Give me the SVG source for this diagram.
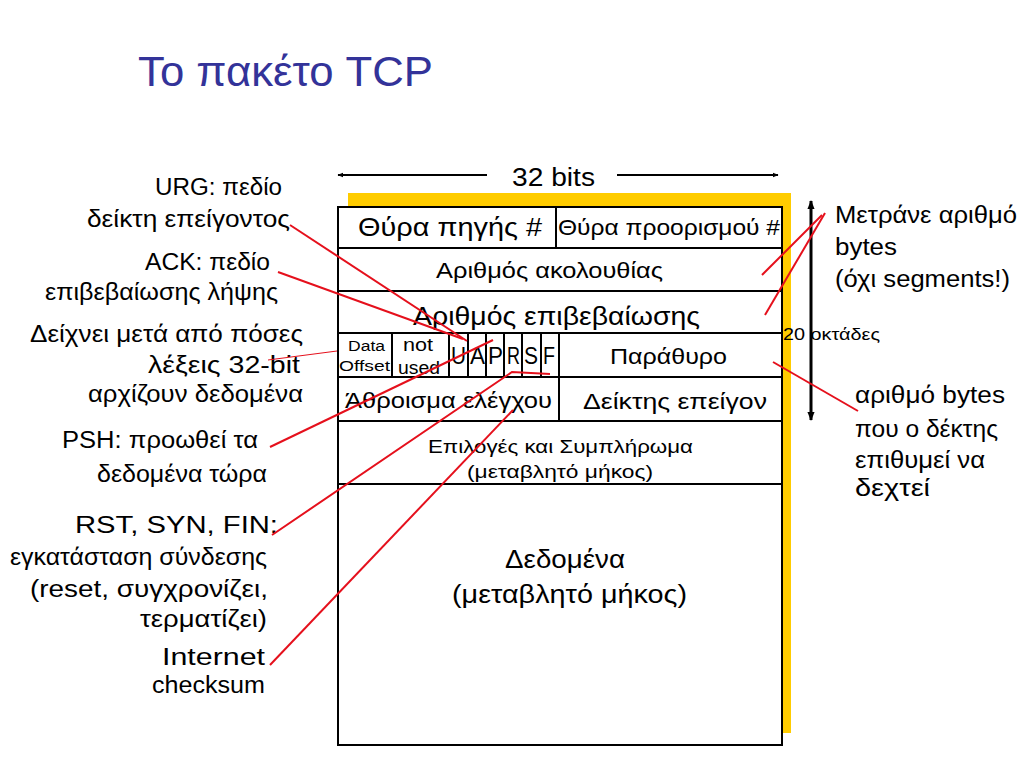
<svg xmlns="http://www.w3.org/2000/svg" width="1024" height="768" viewBox="0 0 1024 768">
<defs>
<marker id="ah" viewBox="0 0 10 10" refX="9" refY="5" markerWidth="6" markerHeight="6" orient="auto-start-reverse" markerUnits="userSpaceOnUse">
<path d="M0,1 L10,5 L0,9 z" fill="#000"/>
</marker>
<marker id="ah2" viewBox="0 0 10 10" refX="9" refY="5" markerWidth="9" markerHeight="9" orient="auto-start-reverse" markerUnits="userSpaceOnUse">
<path d="M0,1 L10,5 L0,9 z" fill="#000"/>
</marker>
<style>
text{font-family:"Liberation Sans","DejaVu Sans",sans-serif;fill:#000}
.lab{font-size:23px}
.cell{font-size:22px}
.big{font-size:26px}
.sm{font-size:14px}
.mid{font-size:18px}
.flag{font-size:24px}
.title{font-size:43px;fill:#333399}
.box{fill:#fff;stroke:#000;stroke-width:2}
.ln{stroke:#000;stroke-width:2;fill:none}
.red{stroke:#e5101c;stroke-width:2;fill:none}
.redt{stroke:#e5101c;stroke-width:1;fill:none}
.arr{stroke:#000;stroke-width:2;fill:none}
</style>
</defs>
<rect width="1024" height="768" fill="#fff"/>
<text class="title" x="138" y="86" textLength="295" lengthAdjust="spacingAndGlyphs">Το πακέτο TCP</text>

<rect x="348" y="193" width="443" height="540" fill="#ffcc00"/>

<g id="packet">
<rect class="box" x="338" y="207" width="444" height="538"/>
<g id="row-lines">
<line class="ln" x1="338" y1="248" x2="782" y2="248"/>
<line class="ln" x1="338" y1="291" x2="782" y2="291"/>
<line class="ln" x1="338" y1="333" x2="782" y2="333"/>
<line class="ln" x1="338" y1="377" x2="782" y2="377"/>
<line class="ln" x1="338" y1="421" x2="782" y2="421"/>
<line class="ln" x1="338" y1="484" x2="782" y2="484"/>
</g>
</g>
<g id="src-port"><text class="big" x="358" y="236" textLength="184" lengthAdjust="spacingAndGlyphs">Θύρα πηγής #</text></g>
<g id="dst-port"><line class="ln" x1="556" y1="207" x2="556" y2="248"/><text class="cell" x="558" y="235" textLength="222" lengthAdjust="spacingAndGlyphs">Θύρα προορισμού #</text></g>
<g id="seq"><text class="cell" x="436" y="278" textLength="227" lengthAdjust="spacingAndGlyphs">Αριθμός ακολουθίας</text></g>
<g id="ack"><text class="big" x="413" y="325" textLength="287" lengthAdjust="spacingAndGlyphs">Αριθμός επιβεβαίωσης</text></g>
<g id="data-offset"><line class="ln" x1="392" y1="333" x2="392" y2="377"/><text class="sm" x="348" y="351" textLength="37" lengthAdjust="spacingAndGlyphs">Data</text><text class="sm" x="339" y="371" textLength="51" lengthAdjust="spacingAndGlyphs">Offset</text></g>
<g id="not-used"><line class="ln" x1="449" y1="333" x2="449" y2="377"/><text class="mid" x="403" y="351" textLength="30" lengthAdjust="spacingAndGlyphs">not</text><text class="mid" x="398" y="374" textLength="42" lengthAdjust="spacingAndGlyphs">used</text></g>
<g id="flag-u"><line class="ln" x1="468" y1="333" x2="468" y2="377"/><text class="flag" x="451" y="364" textLength="15" lengthAdjust="spacingAndGlyphs">U</text></g>
<g id="flag-a"><line class="ln" x1="486" y1="333" x2="486" y2="377"/><text class="flag" x="470" y="364" textLength="15" lengthAdjust="spacingAndGlyphs">A</text></g>
<g id="flag-p"><line class="ln" x1="504" y1="333" x2="504" y2="377"/><text class="flag" x="488" y="364" textLength="15" lengthAdjust="spacingAndGlyphs">P</text></g>
<g id="flag-r"><line class="ln" x1="522" y1="333" x2="522" y2="377"/><text class="flag" x="507" y="364" textLength="13" lengthAdjust="spacingAndGlyphs">R</text></g>
<g id="flag-s"><line class="ln" x1="541" y1="333" x2="541" y2="377"/><text class="flag" x="524" y="364" textLength="14" lengthAdjust="spacingAndGlyphs">S</text></g>
<g id="flag-f"><line class="ln" x1="559" y1="333" x2="559" y2="377"/><text class="flag" x="543" y="364" textLength="12" lengthAdjust="spacingAndGlyphs">F</text></g>
<g id="window"><text class="cell" x="610" y="364" textLength="117" lengthAdjust="spacingAndGlyphs">Παράθυρο</text></g>
<g id="checksum"><line class="ln" x1="559" y1="377" x2="559" y2="421"/><text class="cell" x="345" y="408" textLength="207" lengthAdjust="spacingAndGlyphs">Άθροισμα ελέγχου</text></g>
<g id="urgent"><text class="cell" x="583" y="409" textLength="184" lengthAdjust="spacingAndGlyphs">Δείκτης επείγον</text></g>
<g id="options"><text class="mid" x="428" y="453" textLength="265" lengthAdjust="spacingAndGlyphs">Επιλογές και Συμπλήρωμα</text><text class="mid" x="467" y="478" textLength="186" lengthAdjust="spacingAndGlyphs">(μεταβλητό μήκος)</text></g>
<g id="data"><text class="big" x="505" y="568" textLength="120" lengthAdjust="spacingAndGlyphs">Δεδομένα</text><text class="big" x="452" y="603" textLength="235" lengthAdjust="spacingAndGlyphs">(μεταβλητό μήκος)</text></g>

<g id="width-label"><text class="big" x="512" y="186" textLength="83" lengthAdjust="spacingAndGlyphs">32 bits</text></g>
<g id="height-label"><text x="783" y="340" style="font-size:17px" textLength="97" lengthAdjust="spacingAndGlyphs">20 οκτάδες</text></g>

<g id="label-urg"><text class="lab" x="155" y="195" textLength="127" lengthAdjust="spacingAndGlyphs">URG: πεδίο</text><text class="lab" x="87" y="227" textLength="203" lengthAdjust="spacingAndGlyphs">δείκτη επείγοντος</text></g>
<g id="label-ack"><text class="lab" x="145" y="270" textLength="125" lengthAdjust="spacingAndGlyphs">ACK: πεδίο</text><text class="lab" x="45" y="300" textLength="233" lengthAdjust="spacingAndGlyphs">επιβεβαίωσης λήψης</text></g>
<g id="label-offset"><text class="lab" x="30" y="342" textLength="273" lengthAdjust="spacingAndGlyphs">Δείχνει μετά από πόσες</text><text class="lab" x="148" y="373" textLength="152" lengthAdjust="spacingAndGlyphs">λέξεις 32-bit</text><text class="lab" x="88" y="402" textLength="215" lengthAdjust="spacingAndGlyphs">αρχίζουν δεδομένα</text></g>
<g id="label-psh"><text class="lab" x="62" y="448" textLength="196" lengthAdjust="spacingAndGlyphs">PSH: προωθεί τα</text><text class="lab" x="97" y="482" textLength="170" lengthAdjust="spacingAndGlyphs">δεδομένα τώρα</text></g>
<g id="label-rsf"><text class="lab" x="75" y="533" textLength="203" lengthAdjust="spacingAndGlyphs">RST, SYN, FIN:</text><text class="lab" x="10" y="565" textLength="257" lengthAdjust="spacingAndGlyphs">εγκατάσταση σύνδεσης</text><text class="lab" x="30" y="597" textLength="238" lengthAdjust="spacingAndGlyphs">(reset, συγχρονίζει,</text><text class="lab" x="140" y="627" textLength="127" lengthAdjust="spacingAndGlyphs">τερματίζει)</text></g>
<g id="label-cksum"><text class="lab" x="162" y="665" textLength="103" lengthAdjust="spacingAndGlyphs">Internet</text><text class="lab" x="152" y="693" textLength="113" lengthAdjust="spacingAndGlyphs">checksum</text></g>
<g id="label-count"><text class="lab" x="835" y="223" textLength="182" lengthAdjust="spacingAndGlyphs">Μετράνε αριθμό</text><text class="lab" x="835" y="255" textLength="62" lengthAdjust="spacingAndGlyphs">bytes</text><text class="lab" x="835" y="287" textLength="175" lengthAdjust="spacingAndGlyphs">(όχι segments!)</text></g>
<g id="label-window"><text class="lab" x="855" y="403" textLength="150" lengthAdjust="spacingAndGlyphs">αριθμό bytes</text><text class="lab" x="855" y="437" textLength="143" lengthAdjust="spacingAndGlyphs">που ο δέκτης</text><text class="lab" x="855" y="468" textLength="130" lengthAdjust="spacingAndGlyphs">επιθυμεί να</text><text class="lab" x="855" y="496" textLength="75" lengthAdjust="spacingAndGlyphs">δεχτεί</text></g>

<g id="connectors">
<line class="arr" x1="338" y1="175" x2="487" y2="175" marker-start="url(#ah)"/>
<line class="arr" x1="617" y1="175" x2="778" y2="175" marker-end="url(#ah)"/>
<line x1="811" y1="201" x2="811" y2="420" stroke="#000" stroke-width="3" marker-start="url(#ah2)" marker-end="url(#ah2)"/>
<line class="red" x1="290" y1="225" x2="467" y2="341"/>
<line class="red" x1="278" y1="272" x2="463" y2="339"/>
<line class="redt" x1="268" y1="360" x2="337" y2="351"/>
<line class="red" x1="270" y1="447" x2="493" y2="340"/>
<polyline class="red" points="272,535 512,372 550,374"/>
<line class="red" x1="270" y1="665" x2="513" y2="410"/>
<line class="red" x1="822" y1="215" x2="762" y2="275"/>
<line class="red" x1="825" y1="213" x2="765" y2="315"/>
<line class="red" x1="773" y1="362" x2="858" y2="411"/>
</g>
</svg>
